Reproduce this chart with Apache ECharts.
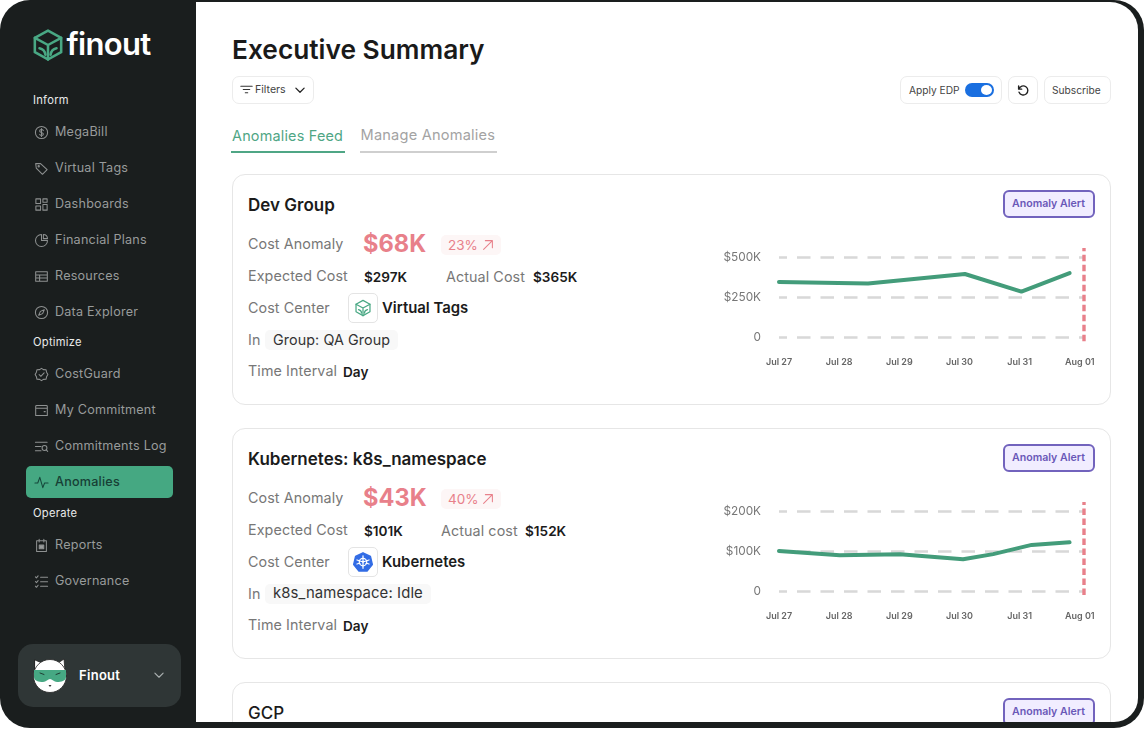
<!DOCTYPE html>
<html>
<head>
<meta charset="utf-8">
<title>Executive Summary</title>
<script src="https://cdn.jsdelivr.net/npm/echarts@6/dist/echarts.min.js"></script>
<style>
html, body { margin: 0; padding: 0; background: #fff; }
body { width: 1144px; height: 729px; overflow: hidden; position: relative; font-family: Inter, "Noto Sans", sans-serif; }
#frame { position: absolute; left: 0; top: 0; width: 1144px; height: 728px; background: #1a1e1e; border-radius: 30px; overflow: hidden; }
#main { position: absolute; left: 196px; top: 2px; width: 942px; height: 720px; background: #fff; border-radius: 0 28px 24px 0; overflow: hidden; }
.t { position: absolute; white-space: nowrap; transform: translateY(-50%); line-height: 1.2; }
.box { position: absolute; box-sizing: border-box; }
.btn { border: 1.5px solid #ececec; border-radius: 7px; background: #fff; }
.card { border: 1.5px solid #e6e6e6; border-radius: 13px; background: #fff; }
.alert { background: #f1edff; border: 2px solid #7263bd; border-radius: 6px; }
.ic { position: absolute; fill: none; stroke-linecap: round; stroke-linejoin: round; }
.nav { color: #989b9b; font-size: 12.6px; letter-spacing: .22px; }
.sec { color: #e9eaea; font-size: 11.2px; letter-spacing: .25px; font-weight: 400; }
.lab { color: #777; font-size: 14.3px; letter-spacing: .1px; }
.val { color: #1b1b1b; font-size: 13.6px; font-weight: 600; }
.title { color: #1b1b1b; font-size: 17px; font-weight: 600; }
.big { color: #e8808a; font-size: 23.6px; font-weight: 700; }
.pct { color: #e8808a; font-size: 13.5px; }
.chart { position: absolute; left: 700px; width: 410px; height: 150px; }
</style>
</head>
<body>
<div id="frame"></div>
<div id="main"></div>
<div id="layer"></div>
<div class="chart" id="chartDev" style="top:230px"></div>
<div class="chart" id="chartK8s" style="top:490px"></div>

<script>
"use strict";

// chart values ($K, x in days after Jul 27)
var dayLabels = ['Jul 27', 'Jul 28', 'Jul 29', 'Jul 30', 'Jul 31', 'Aug 01'];

var devDays = [0, 1.48, 3.09, 4.03, 4.83];
var devCost = [347, 337, 396, 287, 402];
var devTicks = ['0', '$250K', '$500K'];
var devMarker = [-22, 558];

var k8sDays = [0, 1.01, 2.01, 3.06, 3.56, 4.2, 4.83];
var k8sCost = [102, 91, 93.5, 81, 94, 117, 123.5];
var k8sTicks = ['0', '$100K', '$200K'];
var k8sMarker = [-8, 224];

var anomalyDay = 5.07;

// sidebar text
var informItems = ['MegaBill', 'Virtual Tags', 'Dashboards', 'Financial Plans', 'Resources', 'Data Explorer'];
var optimizeItems = ['CostGuard', 'My Commitment', 'Commitments Log', 'Anomalies'];
var operateItems = ['Reports', 'Governance'];

var layer = document.getElementById('layer');

function put(x, cy, text, cls, style) {
	var el = document.createElement('div');
	el.className = 't ' + cls;
	el.textContent = text;
	el.style.left = x + 'px';
	el.style.top = cy + 'px';
	if (style) el.style.cssText += style;
	layer.appendChild(el);
	return el;
}

function box(x, y, w, h, cls, style) {
	var el = document.createElement('div');
	el.className = 'box ' + cls;
	el.style.cssText = 'left:' + x + 'px;top:' + y + 'px;width:' + w + 'px;height:' + h + 'px;' + (style || '');
	layer.appendChild(el);
	return el;
}

function icon(x, y, size, color, sw, body) {
	var s = document.createElementNS('http://www.w3.org/2000/svg', 'svg');
	s.setAttribute('class', 'ic');
	s.setAttribute('viewBox', '0 0 16 16');
	s.setAttribute('width', size);
	s.setAttribute('height', size);
	s.style.left = x + 'px';
	s.style.top = y + 'px';
	s.style.stroke = color;
	s.style.strokeWidth = sw;
	s.innerHTML = body;
	layer.appendChild(s);
	return s;
}

var cube = '<path d="M8 1.2 14.2 4.6V11.4L8 14.8 1.8 11.4V4.6Z"/><path d="M1.8 4.6 8 8 14.2 4.6M8 8V14.8"/><path d="M4 9.5C5.5 9.8 6.6 11 6.8 12.6M12 9.5C10.5 9.8 9.4 11 9.2 12.6"/>';
var navIcons = {
	'MegaBill': '<circle cx="8" cy="8" r="6.5"/><path d="M10 6C9.6 5 8.8 4.8 8 4.8 7 4.8 6 5.3 6 6.3 6 8.3 10 7.5 10 9.6 10 10.7 9 11.2 8 11.2 7 11.2 6.3 10.8 6 10M8 3.8V12.2"/>',
	'Virtual Tags': '<path d="M1.8 2.8H7L14 9.2 9 14.2 2.4 7.5Z"/><circle cx="5" cy="5.6" r=".7"/>',
	'Dashboards': '<path d="M2 2H7V7H2ZM9.5 2H14V5.5H9.5ZM2 9.5H7V14H2ZM9.5 8H14V14H9.5Z"/>',
	'Financial Plans': '<path d="M8 1.6A6.4 6.4 0 1 0 14.4 8H8Z"/><path d="M10 1.6A4.6 4.6 0 0 1 14.4 6H10Z"/>',
	'Resources': '<path d="M1.8 3H14.2V13H1.8ZM1.8 6.3H14.2M1.8 9.6H14.2M6 6.3V13"/>',
	'Data Explorer': '<circle cx="8" cy="8" r="6.5"/><path d="M11 5 9.2 9.2 5 11 6.8 6.8Z"/>',
	'CostGuard': '<path d="M8 1.4 10 2.8 12.8 2.9 13.4 5.5 14.8 8 13.4 10.5 12.8 13.1 10 13.2 8 14.6 6 13.2 3.2 13.1 2.6 10.5 1.2 8 2.6 5.5 3.2 2.9 6 2.8Z"/><path d="M5.4 8 7.3 9.9 10.8 6.2"/>',
	'My Commitment': '<path d="M1.8 3.6C1.8 3 2.2 2.6 2.8 2.6H13.2C13.8 2.6 14.2 3 14.2 3.6V13.4H1.8ZM1.8 5.6H14.2M10.8 9.2H12"/>',
	'Commitments Log': '<path d="M1.5 3.4H14M1.5 8H7.5M1.5 12.6H7.5"/><circle cx="11.2" cy="9.6" r="2.6"/><path d="M13 11.6 14.6 13.2"/>',
	'Anomalies': '<path d="M1 8.5H4L6.2 2.5 9.4 13.5 11.3 8.5H15"/>',
	'Reports': '<path d="M2.8 3H13.2V14.4H2.8ZM5.5 1.4V4.2M10.5 1.4V4.2"/><path d="M5.6 7.6H10.4V11.4H5.6Z" fill="#989b9b"/>',
	'Governance': '<path d="M1.5 3 2.6 4.2 4.4 2M1.5 8 2.6 9.2 4.4 7M1.5 13 2.6 14.2 4.4 12M7 3.4H14.5M7 8.2H14.5M7 13H14.5"/>'
};

function navItem(name, cy, active) {
	icon(33.5, cy - 7.5, 15, active ? '#15463a' : '#8e9191', 1.1, navIcons[name]);
	put(55, cy + .4, name, 'nav', active ? 'color:#173f35;font-weight:500' : '');
}

// sidebar
icon(30.5, 28, 34, '#49a884', 1.2, cube);
put(66.5, 43.5, 'finout', '', 'color:#fff;font-size:31px;font-weight:600;letter-spacing:-.7px');

put(33, 100.5, 'Inform', 'sec');
informItems.forEach(function (n, i) { navItem(n, 132 + i * 36); });

put(33, 343, 'Optimize', 'sec');
box(26, 466, 147, 32, '', 'background:#45a882;border-radius:5px');
optimizeItems.forEach(function (n, i) { navItem(n, 374 + i * 36, n === 'Anomalies'); });

put(33, 513.5, 'Operate', 'sec');
operateItems.forEach(function (n, i) { navItem(n, 545 + i * 36); });

box(18, 644, 163, 63, '', 'background:#2f3636;border-radius:15px');
var cat = icon(32, 657, 36, 'none', 0, '');
cat.setAttribute('viewBox', '0 0 36 36');
cat.innerHTML = '<path d="M3 3 10 6H26L32 2 33 14 3 14Z" fill="#fff" stroke="#222" stroke-width=".8"/>' +
	'<circle cx="18" cy="19" r="16.5" fill="#fff" stroke="#222" stroke-width=".8"/>' +
	'<path d="M2 13H34V20C34 24 29 25 25 25 22 25 20 22 18 22 16 22 14 25 11 25 7 25 2 24 2 20Z" fill="#46a883"/>' +
	'<path d="M8 16 12 17.5M28 16 24 17.5" stroke="#1f3d33" stroke-width="1"/><path d="M16.5 28H19.5L18 30Z" fill="#333"/>';
put(79, 675.5, 'Finout', '', 'color:#fff;font-size:13px;font-weight:600;letter-spacing:.3px');
icon(153, 669, 12, '#aab0b0', 1.5, '<path d="M2.5 5.5 8 11 13.5 5.5"/>');

// page header
put(232, 50, 'Executive Summary', '', 'color:#1a1a1a;font-size:26.3px;font-weight:600');
box(232, 76, 82, 28, 'btn');
icon(240, 83, 13, '#333', 1.3, '<path d="M1 4H15M4 8H12M6.5 12H9.5"/>');
put(255, 89.8, 'Filters', '', 'color:#444;font-size:10.6px');
icon(294, 84, 12, '#222', 1.7, '<path d="M2.5 5.5 8 11 13.5 5.5"/>');

box(900, 76, 102, 28, 'btn');
put(909, 89.8, 'Apply EDP', '', 'color:#444;font-size:10.2px');
box(965, 83, 29, 14, '', 'background:#1a6fe0;border-radius:7px');
box(981, 85, 11, 10, '', 'background:#fff;border-radius:50%');
box(1008, 76, 30, 28, 'btn');
icon(1016, 83, 14, '#222', 1.6, '<path d="M3 3.5V7H6.5M3.4 6.8A5.2 5.2 0 1 1 3.5 10.5"/>');
box(1044, 76, 67, 28, 'btn');
put(1052, 89.8, 'Subscribe', '', 'color:#444;font-size:10.2px');

put(232, 136, 'Anomalies Feed', '', 'color:#4fa685;font-size:14.4px;letter-spacing:.2px');
box(231, 150.5, 114, 2, '', 'background:#4fa685');
put(360.5, 136, 'Manage Anomalies', '', 'color:#a3a3a3;font-size:14.6px;letter-spacing:.2px');
box(360, 150.5, 137, 2, '', 'background:#cfcfcf');

function alertTag(top) {
	box(1003, top, 92, 28, 'alert');
	put(1012, top + 14, 'Anomaly Alert', '', 'color:#6a58b8;font-size:10.6px;font-weight:600');
}

function card(top, c) {
	box(232, top, 879, 231, 'card');
	put(248, top + 30.5, c.title, 'title');
	alertTag(top + 16);
	put(248, top + 70, 'Cost Anomaly', 'lab');
	put(363, top + 70, c.anomaly, 'big');
	box(441, top + 61, 60, 20, '', 'background:#fdf6f6;border-radius:5px');
	put(448, top + 71, c.pct, 'pct');
	icon(481, top + 64, 14, '#e8808a', 1.2, '<path d="M3 13 13 3M5 3H13V11"/>');
	put(248, top + 102, 'Expected Cost', 'lab');
	put(364, top + 102.5, c.expected, 'val');
	put(c.actualX, top + 102.5, c.actualLabel, 'lab');
	put(c.actualValX, top + 102.5, c.actual, 'val');
	put(248, top + 134, 'Cost Center', 'lab');
	box(348, top + 119, 30, 30, '', 'border:1.5px solid #e4e4e4;border-radius:5px');
	if (c.center === 'Virtual Tags') {
		icon(354, top + 125, 18, '#49a884', 1.1, cube);
	} else {
		icon(353, top + 124, 20, '#fff', 1, '<path d="M8 .6 14 3.5 15.5 10 11.3 15.2H4.7L.5 10 2 3.5Z" fill="#326ce5" stroke="#326ce5"/><circle cx="8" cy="8" r="3"/><path d="M8 3V13M3.2 6.4 12.8 9.6M12.8 6.4 3.2 9.6"/>');
	}
	put(382, top + 134.5, c.center, 'val', 'font-size:14.9px');
	put(248, top + 166, 'In', 'lab');
	box(265, top + 156, c.inWidth, 20, '', 'background:#f8f8f8;border-radius:5px');
	put(273, top + 165.5, c.scope, 'lab', 'color:#333;' + c.scopeStyle);
	put(248, top + 197, 'Time Interval', 'lab');
	put(343, top + 197.5, 'Day', 'val');
}

card(174, {
	title: 'Dev Group', anomaly: '$68K', pct: '23%', expected: '$297K',
	actualX: 446, actualLabel: 'Actual Cost', actualValX: 533, actual: '$365K',
	center: 'Virtual Tags', inWidth: 133, scope: 'Group: QA Group', scopeStyle: ''
});
card(428, {
	title: 'Kubernetes: k8s_namespace', anomaly: '$43K', pct: '40%', expected: '$101K',
	actualX: 441, actualLabel: 'Actual cost', actualValX: 525, actual: '$152K',
	center: 'Kubernetes', inWidth: 166, scope: 'k8s_namespace: Idle', scopeStyle: 'font-size:14.9px'
});

// third card runs off the bottom of the window
var clip = box(196, 670, 942, 52, '', 'overflow:hidden');
layer.removeChild(clip);
document.getElementById('main').appendChild(clip);
clip.style.left = '0px';
clip.style.top = '668px';
clip.innerHTML =
	'<div class="box card" style="left:36px;top:12px;width:879px;height:80px"></div>' +
	'<div class="box alert" style="left:807px;top:28px;width:92px;height:28px"></div>' +
	'<div class="t title" style="left:52px;top:42.5px;font-weight:500">GCP</div>' +
	'<div class="t" style="left:816px;top:42px;color:#6a58b8;font-size:10.6px;font-weight:600">Anomaly Alert</div>';

// the two small charts
function drawAnomalyChart(id, days, cost, ticks, maxY, stepY, marker, gridTop, gridHeight) {
	var chart = echarts.init(document.getElementById(id));
	chart.setOption({
		animation: false,
		grid: { left: 79, width: 305, top: gridTop, height: gridHeight },
		xAxis: {
			type: 'value',
			min: 0,
			max: anomalyDay,
			interval: 1,
			axisLine: { show: false },
			axisTick: { show: false },
			splitLine: { show: false },
			axisLabel: {
				margin: 20,
				color: '#666',
				fontFamily: 'Inter',
				fontSize: 9,
				fontWeight: 600,
				formatter: function (v) { return dayLabels[v] || ''; }
			}
		},
		yAxis: {
			type: 'value',
			min: 0,
			max: maxY,
			interval: stepY,
			axisLine: { show: false },
			axisTick: { show: false },
			splitLine: {
				lineStyle: { color: '#d8d8d8', width: 2.6, type: [13.5, 10], dashOffset: 5.5 }
			},
			axisLabel: {
				margin: 18,
				color: '#777',
				fontFamily: 'Inter',
				fontSize: 11.8,
				padding: [0, 0, 3, 0],
				formatter: function (v, i) { return ticks[i]; }
			}
		},
		series: [{
			type: 'line',
			showSymbol: false,
			data: days.map(function (d, i) { return [d, cost[i]]; }),
			lineStyle: { color: '#439c7a', width: 4, cap: 'round', join: 'round' }
		}, {
			type: 'line',
			showSymbol: false,
			clip: false,
			data: [[anomalyDay, marker[0]], [anomalyDay, marker[1]]],
			lineStyle: { color: '#e8808a', width: 3.4, type: [6.5, 3.5] }
		}]
	});
}

drawAnomalyChart('chartDev', devDays, devCost, devTicks, 500, 250, devMarker, 27.3, 80.4);
drawAnomalyChart('chartK8s', k8sDays, k8sCost, k8sTicks, 200, 100, k8sMarker, 21.7, 80);
</script>
</body>
</html>
